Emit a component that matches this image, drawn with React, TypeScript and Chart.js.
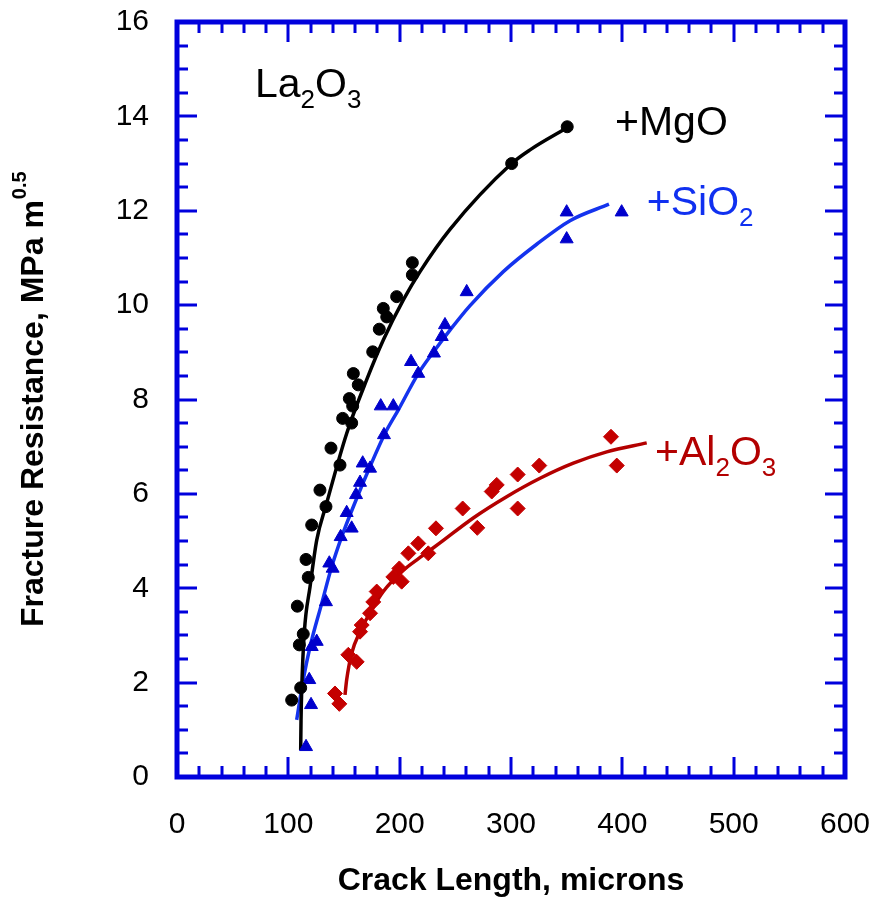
import React, { useEffect, useRef } from "react";
import { Chart, registerables } from "chart.js";

Chart.register(...registerables);

const FONT = '"Liberation Sans", Arial, Helvetica, sans-serif';
const FRAME = "#0000dd";
const BLACK = "#000000";
const BLUE_PT = "#0000cc";
const BLUE_LINE = "#1433ee";
const BLUE_TEXT = "#1030f0";
const RED_PT = "#c40000";
const RED_LINE = "#b30000";

// +MgO measured points
const mgoX = [103.0, 109.9, 111.1, 113.4, 108.1, 115.9, 117.9, 121.0, 133.8, 128.4, 138.3, 146.4, 148.8, 156.9, 157.8, 154.8, 162.8, 158.4, 175.8, 181.7, 185.3, 188.4, 197.3, 211.4, 211.4, 300.6, 350.5];
const mgoY = [1.63, 2.80, 1.89, 3.03, 3.62, 4.61, 4.23, 5.34, 5.73, 6.08, 6.97, 6.61, 7.60, 7.50, 7.86, 8.02, 8.31, 8.55, 9.01, 9.49, 9.93, 9.75, 10.18, 10.64, 10.90, 13.0, 13.78];

// +SiO2 measured points
const sio2X = [115.9, 120.4, 118.8, 121.0, 125.5, 133.8, 136.8, 139.8, 147.0, 152.4, 156.9, 160.8, 164.4, 166.8, 173.4, 185.9, 183.0, 194.3, 210.2, 216.7, 230.8, 237.8, 240.7, 260.2, 350.0, 350.0, 399.4];
const sio2Y = [0.64, 1.53, 2.06, 2.76, 2.87, 3.71, 4.53, 4.42, 5.09, 5.60, 5.27, 5.98, 6.24, 6.65, 6.54, 7.25, 7.86, 7.86, 8.80, 8.55, 8.98, 9.33, 9.58, 10.28, 11.97, 11.40, 11.97];

// +Al2O3 measured points
const al2o3X = [141.9, 145.8, 153.9, 161.4, 164.4, 165.9, 173.4, 176.3, 179.4, 194.3, 199.7, 201.8, 207.8, 216.7, 225.7, 232.6, 256.6, 269.7, 282.7, 287.2, 306.0, 306.0, 325.4, 389.8, 395.0];
const al2o3Y = [1.77, 1.55, 2.59, 2.44, 3.08, 3.22, 3.47, 3.71, 3.93, 4.24, 4.42, 4.14, 4.74, 4.95, 4.74, 5.27, 5.69, 5.28, 6.05, 6.19, 6.41, 5.69, 6.60, 7.21, 6.60];

// fitted curves
const mgoFitX = [111.1, 111.4, 112.0, 114.3, 119.5, 125.5, 133.8, 152.4, 170.4, 185.3, 203.3, 218.3, 245.0, 300.6, 317.1, 351.2];
const mgoFitY = [0.57, 1.2, 1.84, 3.05, 4.03, 5.02, 5.75, 7.28, 8.42, 9.26, 10.11, 10.71, 11.6, 13.0, 13.29, 13.77];

const sio2FitX = [107.5, 113.4, 119.5, 130.0, 139.0, 147.9, 160.8, 173.4, 186.8, 198.8, 216.7, 231.7, 245.2, 263.2, 293.1, 323.1, 353.0, 388.0];
const sio2FitY = [1.21, 2.06, 2.76, 3.68, 4.46, 5.09, 5.87, 6.58, 7.28, 7.78, 8.55, 9.05, 9.47, 9.99, 10.71, 11.29, 11.79, 12.14];

const al2o3FitX = [150.9, 152.4, 156.9, 164.4, 174.9, 185.3, 203.3, 221.2, 236.2, 266.1, 296.1, 326.1, 356.0, 386.0, 421.9];
const al2o3FitY = [1.74, 2.06, 2.62, 3.08, 3.54, 3.93, 4.38, 4.70, 4.96, 5.49, 5.94, 6.33, 6.65, 6.89, 7.08];

const xTicks = [0, 100, 200, 300, 400, 500, 600];
const yTicks = [0, 2, 4, 6, 8, 10, 12, 14, 16];

const xTitle = "Crack Length, microns";
const yTitle = "Fracture Resistance, MPa m";
const yTitleSup = "0.5";

type Part = [string, boolean];
const notes: { parts: Part[]; x: number; y: number; color: string }[] = [
  { parts: [["La", false], ["2", true], ["O", false], ["3", true]], x: 70.0, y: 14.41, color: BLACK },
  { parts: [["+MgO", false]], x: 393.4, y: 13.6, color: BLACK },
  { parts: [["+SiO", false], ["2", true]], x: 422.0, y: 11.91, color: BLUE_TEXT },
  { parts: [["+Al", false], ["2", true], ["O", false], ["3", true]], x: 429.4, y: 6.61, color: RED_LINE },
];

const pts = (xs: number[], ys: number[]) => xs.map((x, i) => ({ x, y: ys[i] }));

function drawParts(ctx: CanvasRenderingContext2D, parts: Part[], x: number, y: number, color: string) {
  ctx.save();
  ctx.fillStyle = color;
  ctx.textAlign = "left";
  ctx.textBaseline = "alphabetic";
  let cx = x;
  for (const [t, sub] of parts) {
    ctx.font = `${sub ? 26 : 41}px ${FONT}`;
    ctx.fillText(t, cx, sub ? y + 11 : y);
    cx += ctx.measureText(t).width;
  }
  ctx.restore();
}

const noScalePadding = (s: any) => {
  s.paddingTop = 0;
  s.paddingBottom = 0;
  s.paddingLeft = 0;
  s.paddingRight = 0;
};

const framePlugin = {
  id: "frameTicks",
  afterDatasetsDraw(chart: any) {
    const { ctx, chartArea } = chart;
    const { left, top, right, bottom } = chartArea;
    const xs = chart.scales.x;
    const ys = chart.scales.y;
    ctx.save();
    ctx.strokeStyle = FRAME;
    ctx.lineWidth = 3;
    ctx.lineCap = "butt";
    ctx.beginPath();
    for (let v = xs.min; v <= xs.max + 1e-6; v += 20) {
      const p = Math.round(xs.getPixelForValue(v));
      const len = v % 100 === 0 ? 20 : 11;
      ctx.moveTo(p, bottom);
      ctx.lineTo(p, bottom - len);
      ctx.moveTo(p, top);
      ctx.lineTo(p, top + len);
    }
    for (let v = ys.min; v <= ys.max + 1e-6; v += 0.5) {
      const p = Math.round(ys.getPixelForValue(v));
      const len = v % 2 === 0 ? 20 : 11;
      ctx.moveTo(left, p);
      ctx.lineTo(left + len, p);
      ctx.moveTo(right, p);
      ctx.lineTo(right - len, p);
    }
    ctx.stroke();
    ctx.lineWidth = 5;
    ctx.strokeRect(left, top, right - left, bottom - top);
    ctx.restore();
  },
  afterDraw(chart: any) {
    const { ctx } = chart;
    const xs = chart.scales.x;
    const ys = chart.scales.y;
    for (const n of notes) {
      drawParts(ctx, n.parts, xs.getPixelForValue(n.x), ys.getPixelForValue(n.y), n.color);
    }
    // y-axis title with superscript
    ctx.save();
    ctx.translate(43, 627);
    ctx.rotate(-Math.PI / 2);
    ctx.fillStyle = BLACK;
    ctx.textAlign = "left";
    ctx.textBaseline = "alphabetic";
    ctx.font = `bold 32px ${FONT}`;
    ctx.fillText(yTitle, 0, 0);
    const w = ctx.measureText(yTitle).width;
    ctx.font = `bold 20px ${FONT}`;
    ctx.fillText(yTitleSup, w + 1, -17);
    ctx.restore();
  },
};

export default function App() {
  const ref = useRef<HTMLCanvasElement>(null);
  useEffect(() => {
    const canvas = ref.current;
    if (!canvas) return;
    const curve = (xs: number[], ys: number[], color: string) => ({
      data: pts(xs, ys),
      showLine: true,
      borderColor: color,
      backgroundColor: color,
      borderWidth: 3.5,
      pointRadius: 0,
      pointHoverRadius: 0,
      cubicInterpolationMode: "monotone" as const,
      fill: false,
    });
    const chart = new Chart(canvas, {
      type: "scatter",
      data: {
        datasets: [
          { label: "+MgO", data: pts(mgoX, mgoY), pointStyle: "circle", pointRadius: 6, borderWidth: 1, backgroundColor: BLACK, borderColor: BLACK, showLine: false },
          { label: "+SiO2", data: pts(sio2X, sio2Y), pointStyle: "triangle", pointRadius: 7.5, borderWidth: 1, backgroundColor: BLUE_PT, borderColor: BLUE_PT, showLine: false },
          { label: "+Al2O3", data: pts(al2o3X, al2o3Y), pointStyle: "rectRot", pointRadius: 7.5, borderWidth: 1, backgroundColor: RED_PT, borderColor: RED_PT, showLine: false },
          { label: "fit MgO", ...curve(mgoFitX, mgoFitY, BLACK) },
          { label: "fit SiO2", ...curve(sio2FitX, sio2FitY, BLUE_LINE) },
          { label: "fit Al2O3", ...curve(al2o3FitX, al2o3FitY, RED_LINE) },
        ] as any,
      },
      options: {
        animation: false,
        responsive: false,
        maintainAspectRatio: false,
        layout: { padding: { left: 0, top: 22, right: 28, bottom: 0 } },
        plugins: { legend: { display: false }, tooltip: { enabled: false }, title: { display: false } },
        scales: {
          x: {
            type: "linear",
            min: 0,
            max: 600,
            afterBuildTicks: (s: any) => { s.ticks = xTicks.map((v) => ({ value: v })); },
            afterFit: (s: any) => { s.height = 123; noScalePadding(s); },
            grid: { display: false, drawTicks: false },
            border: { display: false },
            ticks: { padding: 30, color: BLACK, font: { family: FONT, size: 30 }, maxRotation: 0 },
            title: { display: true, text: xTitle, color: BLACK, font: { family: FONT, size: 32, weight: "bold", lineHeight: 1.2 }, padding: { top: 0, bottom: 0 } },
          },
          y: {
            type: "linear",
            min: 0,
            max: 16,
            afterBuildTicks: (s: any) => { s.ticks = yTicks.map((v) => ({ value: v })); },
            afterFit: (s: any) => { s.width = 177; noScalePadding(s); },
            grid: { display: false, drawTicks: false },
            border: { display: false },
            ticks: { padding: 28, color: BLACK, font: { family: FONT, size: 30 } },
            title: { display: false },
          },
        },
      } as any,
      plugins: [framePlugin],
    });
    return () => chart.destroy();
  }, []);
  return (
    <div style={{ position: "absolute", left: 0, top: 0, width: 873, height: 900, background: "#fff" }}>
      <canvas ref={ref} width={873} height={900} style={{ display: "block", width: 873, height: 900 }} />
    </div>
  );
}
